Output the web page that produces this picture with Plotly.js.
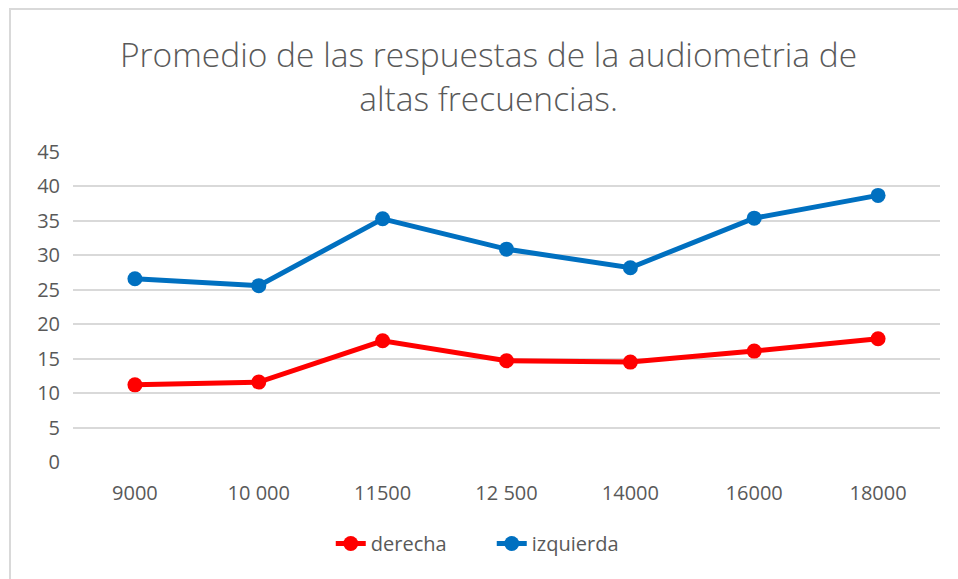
<!DOCTYPE html>
<html>
<head>
<meta charset="utf-8">
<script src="https://cdn.plot.ly/plotly-3.0.1.min.js"></script>
<style>
html,body{margin:0;padding:0;background:#fff;}
#chart{width:958px;height:579px;}
#frame{position:absolute;left:9px;top:8px;width:960px;height:580px;border-left:2px solid #d9d9d9;border-top:2px solid #d9d9d9;pointer-events:none;}
</style>
</head>
<body>
<div id="chart"></div>
<div id="frame"></div>
<script>
const categories = ["9000", "10 000", "11500", "12 500", "14000", "16000", "18000"];
const derecha = [11.2, 11.6, 17.6, 14.7, 14.5, 16.1, 17.9];
const izquierda = [26.6, 25.6, 35.3, 30.9, 28.2, 35.4, 38.7];
const yTicks = [0, 5, 10, 15, 20, 25, 30, 35, 40, 45];

const font = "'Open Sans', Lato, sans-serif";

const traces = [
  {
    x: categories, y: derecha, name: "derecha", type: "scatter", mode: "lines+markers",
    line: {color: "#FF0000", width: 5}, marker: {color: "#FF0000", size: 15}
  },
  {
    x: categories, y: izquierda, name: "izquierda", type: "scatter", mode: "lines+markers",
    line: {color: "#0070C0", width: 5}, marker: {color: "#0070C0", size: 15}
  }
];

const layout = {
  width: 958, height: 579,
  margin: {l: 73, r: 18, t: 152, b: 117},
  paper_bgcolor: "#fff", plot_bgcolor: "#fff",
  font: {family: font, color: "#595959"},
  title: {
    text: "Promedio de las respuestas de la audiometria de<br>altas frecuencias.",
    font: {family: font, size: 33.5, color: "#595959", weight: 300},
    x: 0.51, xanchor: "center", y: 0.884, yanchor: "top"
  },
  xaxis: {
    type: "category", range: [-0.5, 6.5], showgrid: false, zeroline: false,
    showline: false, ticks: "", tickfont: {size: 20, color: "#595959"}, ticklabelstandoff: 17
  },
  yaxis: {
    range: [0, 45], tickvals: yTicks, showgrid: true, gridcolor: "#d9d9d9", gridwidth: 2,
    zeroline: false, showline: false, ticks: "", tickfont: {size: 20, color: "#595959"}, ticklabelstandoff: 12
  },
  showlegend: true,
  legend: {
    orientation: "h", x: 0.483, xanchor: "center", y: -0.2, yanchor: "top",
    font: {size: 20, color: "#595959"}, traceorder: "normal", entrywidth: 116, entrywidthmode: "pixels"
  }
};

Plotly.newPlot("chart", traces, layout, {displayModeBar: false, staticPlot: true});
</script>
</body>
</html>
